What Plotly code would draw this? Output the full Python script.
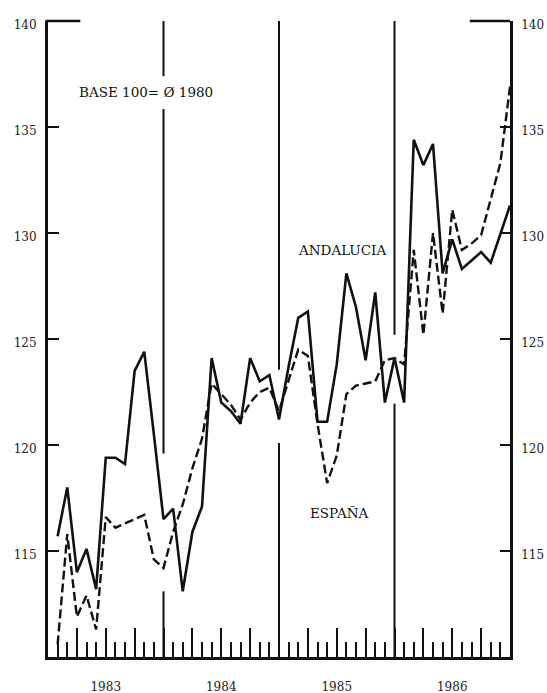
import plotly.graph_objects as go

# ---------------- data ----------------
years = ["1983", "1984", "1985", "1986"]
month_index = list(range(1, 49))  # monthly observations, Jan 1983 .. Dec 1986

andalucia = [
    115.7, 118.0, 114.0, 115.1, 113.2, 119.4, 119.4, 119.1, 123.5, 124.4, 120.5, 116.5,
    117.0, 113.1, 115.9, 117.1, 124.1, 122.0, 121.6, 121.0, 124.1, 123.0, 123.3, 121.2,
    123.7, 126.0, 126.3, 121.1, 121.1, 123.8, 128.1, 126.5, 124.0, 127.2, 122.0, 124.1,
    122.0, 134.4, 133.2, 134.2, 128.1, 129.7, 128.3, 128.7, 129.1, 128.6, 129.9, 131.3,
]
espana = [
    110.6, 115.8, 111.9, 112.9, 111.3, 116.6, 116.1, 116.3, 116.5, 116.7, 114.6, 114.2,
    115.9, 117.2, 118.9, 120.3, 122.9, 122.4, 121.9, 121.2, 122.0, 122.5, 122.7, 121.6,
    123.0, 124.5, 124.2, 121.0, 118.2, 119.5, 122.4, 122.8, 122.9, 123.0, 124.0, 124.1,
    123.8, 129.2, 125.2, 130.0, 126.2, 131.1, 129.2, 129.5, 129.9, 131.6, 133.3, 136.9,
]
y_ticks = [115, 120, 125, 130, 135, 140]
base_note = "BASE 100= Ø 1980"
series_labels = ["ANDALUCIA", "ESPAÑA"]

# ---------------- style ----------------
INK = "#111111"
SERIF = "DejaVu Serif"
Y_MIN, Y_MAX = 110, 140
N = len(month_index)

fig = go.Figure()
fig.add_trace(go.Scatter(x=month_index, y=andalucia, mode="lines",
                         line=dict(color=INK, width=2.6), name=series_labels[0],
                         showlegend=False))
fig.add_trace(go.Scatter(x=month_index, y=espana, mode="lines",
                         line=dict(color=INK, width=2.4, dash="9px,4px"),
                         name=series_labels[1], showlegend=False))
# anchor trace for the right-hand axis
fig.add_trace(go.Scatter(x=month_index[:1], y=espana[:1], yaxis="y2", mode="lines",
                         showlegend=False, hoverinfo="skip"))

# x axis: tall ticks each quarter, short ticks each month, year labels in the middle
quarter_vals = list(range(0, N + 1, 3))
quarter_text = []
for q in quarter_vals:
    if q % 12 == 6:
        quarter_text.append(years[q // 12])
    else:
        quarter_text.append("")

axis_font = dict(family=SERIF, size=12, color="#222222")

fig.update_layout(
    width=547, height=693,
    margin=dict(l=48, r=37, t=21, b=36),
    paper_bgcolor="white", plot_bgcolor="white",
    showlegend=False,
    xaxis=dict(range=[0, N], showgrid=False, zeroline=False, automargin=False,
               showline=True, linecolor=INK, linewidth=3,
               tickmode="array", tickvals=quarter_vals, ticktext=quarter_text,
               ticks="inside", ticklen=29, tickwidth=2.2, tickcolor=INK,
               ticklabelstandoff=17, tickfont=axis_font,
               minor=dict(tickmode="linear", tick0=0, dtick=1, ticks="inside",
                          ticklen=15, tickwidth=2.2, tickcolor=INK)),
    yaxis=dict(range=[Y_MIN, Y_MAX], showgrid=False, zeroline=False, automargin=False,
               showline=True, linecolor=INK, linewidth=3,
               tickmode="array", tickvals=y_ticks,
               ticks="inside", ticklen=11, tickwidth=2.4, tickcolor=INK,
               ticklabelshift=4, ticklabelstandoff=6, tickfont=axis_font),
    yaxis2=dict(range=[Y_MIN, Y_MAX], overlaying="y", side="right", automargin=False,
                showgrid=False, zeroline=False,
                showline=True, linecolor=INK, linewidth=2.5,
                tickmode="array", tickvals=y_ticks,
                ticks="inside", ticklen=10, tickwidth=2.4, tickcolor=INK,
                ticklabelshift=4, ticklabelstandoff=6, tickfont=axis_font),
)

# partial top frame (short stubs at each corner)
shapes = [
    dict(type="line", xref="paper", yref="paper", x0=-0.005, x1=0.07, y0=1, y1=1,
         line=dict(color=INK, width=2.5)),
    dict(type="line", xref="paper", yref="paper", x0=0.913, x1=1.0, y0=1, y1=1,
         line=dict(color=INK, width=2.5)),
]

# year separators, interrupted where the curves cross them
note_x, note_y = 3.0, 136.65


def value_at(series, pos):
    i = int(pos)
    frac = pos - i
    if i >= len(series):
        return series[-1]
    if frac == 0:
        return series[i - 1]
    a = series[i - 1]
    b = series[i] if i < len(series) else series[-1]
    return a + (b - a) * frac


for b in (12, 24, 36):
    vals = []
    for s in (andalucia, espana):
        for p in (b - 0.5, b, b + 0.5):
            vals.append(value_at(s, p))
    lo, hi = min(vals) - 1.1, max(vals) + 1.1
    segs = [(Y_MIN, lo)]
    if b == 12:
        segs += [(hi, note_y - 0.8), (note_y + 0.75, Y_MAX)]
    else:
        segs += [(hi, Y_MAX)]
    for y0, y1 in segs:
        shapes.append(dict(type="line", xref="x", yref="y", x0=b, x1=b, y0=y0, y1=y1,
                           line=dict(color=INK, width=2)))
fig.update_layout(shapes=shapes)

text_font = dict(family=SERIF, size=13.5, color=INK)
fig.add_annotation(x=note_x, y=note_y, xref="x", yref="y", text=base_note,
                   showarrow=False, xanchor="left", yanchor="middle", font=text_font)
fig.add_annotation(x=30.5, y=129.2, xref="x", yref="y", text=series_labels[0],
                   showarrow=False, xanchor="center", yanchor="middle", font=text_font)
fig.add_annotation(x=30.3, y=116.8, xref="x", yref="y", text=series_labels[1],
                   showarrow=False, xanchor="center", yanchor="middle", font=text_font)

fig.write_html("out.html",
               config={"displayModeBar": False},
               post_script="document.body.style.margin='0';document.body.style.overflow='hidden';")
